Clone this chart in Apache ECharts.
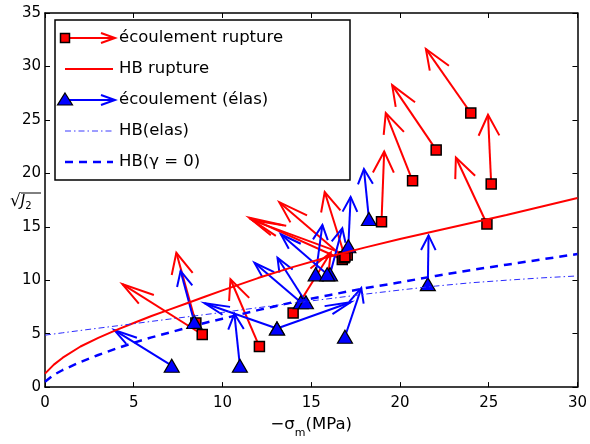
<!DOCTYPE html>
<html><head><meta charset="utf-8">
<script src="https://cdn.jsdelivr.net/npm/echarts@6/dist/echarts.min.js"></script>
<style>html,body{margin:0;padding:0;background:#fff}#c{width:590px;height:444px}</style>
</head><body><div id="c"></div>
<script>
// ---- data ----
const curveX     = [0,0.5,1,2,3,4,5,6,7,8,9,10,12,14,16,18,20,22,24,26,28,30];
const hbRuptureY = [1.26,2.1,2.75,3.8,4.6,5.33,6.0,6.65,7.25,7.85,8.45,9.05,10.2,11.25,12.2,13.05,13.85,14.6,15.35,16.1,16.9,17.7];
const hbElasY    = [4.86,4.97,5.08,5.3,5.51,5.72,5.93,6.15,6.36,6.57,6.78,6.99,7.43,7.86,8.27,8.69,9.08,9.45,9.76,10.0,10.22,10.4];
const hbGamma0Y  = [0.5,1.15,1.6,2.35,3.0,3.6,4.15,4.65,5.1,5.55,6.0,6.4,7.2,7.95,8.6,9.25,9.8,10.4,10.95,11.45,11.95,12.45];

// écoulement rupture: start (square) -> arrow tip
const rupStartX = [23.99,22.04,20.71,25.14,18.96,24.90,8.86,12.08,8.50,16.75,17.03,16.85,16.90,13.98];
const rupStartY = [25.64,22.19,19.30,18.99,15.48,15.26,4.92,3.79,6.00,11.94,12.35,12.10,12.20,6.93];
const rupTipX   = [21.46,19.56,19.20,24.96,19.11,23.15,4.36,10.45,7.40,11.50,11.70,13.20,15.76,16.10];
const rupTipY   = [31.64,28.25,25.64,25.48,22.04,21.48,9.63,10.09,12.56,15.85,15.60,17.30,18.25,12.60];

// écoulement (élas): start (triangle) -> arrow tip
const elaStartX = [7.14,10.98,13.07,13.07,16.90,21.57,18.25,17.09,8.41,15.25,16.06,14.41,14.70,15.90];
const elaStartY = [2.00,2.00,5.48,5.48,4.71,9.63,15.73,13.18,6.10,10.55,10.55,7.94,7.94,10.55];
const elaTipX   = [3.91,10.67,8.99,17.22,17.82,21.61,17.97,17.22,7.64,15.63,16.75,11.80,13.10,13.29];
const elaTipY   = [5.33,6.86,7.85,7.94,9.26,14.19,20.40,17.79,10.87,15.17,14.87,11.63,12.10,14.30];

const xTicks = [0,5,10,15,20,25,30];
const yTicks = [0,5,10,15,20,25,30,35];
const legendLabels = ['écoulement rupture','HB rupture','écoulement (élas)','HB(elas)','HB(γ = 0)'];

// ---- build ----
const FONT = "'DejaVu Sans', sans-serif";
const RED = '#ff0000', BLUE = '#0000ff';
const zip2 = (a,b) => a.map((v,i)=>[v,b[i]]);
const zip4 = (a,b,c,d) => a.map((v,i)=>[v,b[i],c[i],d[i]]);

function arrowRender(color){
  return function(params, api){
    const x0=api.value(0), y0=api.value(1), x1=api.value(2), y1=api.value(3);
    const u=x1-x0, v=y1-y0, a=0.3, b=0.3;
    const p0=api.coord([x0,y0]), p1=api.coord([x1,y1]);
    const h1=api.coord([x1-a*(u+b*v), y1-a*(v-b*u)]);
    const h2=api.coord([x1-a*(u-b*v), y1-a*(v+b*u)]);
    return {type:'group', children:[
      {type:'line', shape:{x1:p0[0],y1:p0[1],x2:p1[0],y2:p1[1]}, style:{stroke:color,lineWidth:2}},
      {type:'polyline', shape:{points:[h1,p1,h2]}, style:{stroke:color,lineWidth:2,fill:null}}
    ]};
  };
}

const axisCommon = {
  min:0, interval:5,
  splitLine:{show:false},
  axisLine:{show:true, onZero:false, lineStyle:{color:'#000', width:1.5}},
  axisTick:{show:true, inside:true, length:5, lineStyle:{color:'#000', width:1}},
};

// legend drawn as graphic
const LX = 55, LY = 20, LW = 295, LH = 160;
const rowY = [38, 69, 100, 131, 162];
const gx0 = 65, gx1 = 115, tx = 119;
const g = [];
g.push({type:'rect', shape:{x:LX,y:LY,width:LW,height:LH}, style:{fill:'#fff', stroke:'#000', lineWidth:1.5}, z:100});
function arrowIcon(y, color){
  g.push({type:'line', shape:{x1:gx0,y1:y,x2:gx1,y2:y}, style:{stroke:color,lineWidth:2}, z:101});
  g.push({type:'polyline', shape:{points:[[gx1-14,y-5],[gx1,y],[gx1-14,y+5]]}, style:{stroke:color,lineWidth:2,fill:null}, z:101});
}
arrowIcon(rowY[0], RED);
g.push({type:'rect', shape:{x:gx0-4.5,y:rowY[0]-4.5,width:9,height:9}, style:{fill:RED, stroke:'#000', lineWidth:1.5}, z:102});
g.push({type:'line', shape:{x1:gx0,y1:rowY[1],x2:gx1-2,y2:rowY[1]}, style:{stroke:RED,lineWidth:2}, z:101});
arrowIcon(rowY[2], BLUE);
g.push({type:'polygon', shape:{points:[[gx0,rowY[2]-7],[gx0+7.5,rowY[2]+5],[gx0-7.5,rowY[2]+5]]}, style:{fill:BLUE, stroke:'#000', lineWidth:1.2}, z:102});
g.push({type:'line', shape:{x1:gx0,y1:rowY[3],x2:gx1-2,y2:rowY[3]}, style:{stroke:'#3a3aff',lineWidth:1,lineDash:[6,3,1.5,3]}, z:101});
g.push({type:'line', shape:{x1:gx0,y1:rowY[4],x2:gx1-2,y2:rowY[4]}, style:{stroke:BLUE,lineWidth:2.5,lineDash:[8,6]}, z:101});
legendLabels.forEach((t,i)=>{
  g.push({type:'text', x:tx, y:rowY[i], style:{text:t, font:'16.5px '+FONT, fill:'#000', verticalAlign:'middle', align:'left'}, z:101});
});
// y axis name sqrt(J2)
g.push({type:'text', x:10, y:202, style:{text:'{s|√}{j|J}{sub|2}', verticalAlign:'middle', align:'left',
  rich:{s:{fontSize:17, fontFamily:FONT, fill:'#000'}, j:{fontSize:15, fontFamily:FONT, fontStyle:'italic', fill:'#000'}, sub:{fontSize:10, fontFamily:FONT, fill:'#000', padding:[8,0,0,0]}}}, z:50});
g.push({type:'line', shape:{x1:21,y1:193,x2:41,y2:193}, style:{stroke:'#000', lineWidth:1}, z:50});

const option = {
  animation:false,
  backgroundColor:'#fff',
  grid:{left:45, right:12, top:13, bottom:52, containLabel:false},
  xAxis:[
    Object.assign({}, axisCommon, {type:'value', max:30, position:'bottom',
      axisLabel:{show:true, color:'#000', fontSize:15, fontFamily:FONT, margin:9, formatter:v=>xTicks.includes(v)?String(v):''},
      name:'{a|−σ}{m|m}{a|(MPa)}', nameLocation:'middle', nameGap:23,
      nameTextStyle:{rich:{a:{fontSize:16.5, fontFamily:FONT, color:'#000', verticalAlign:'top'}, m:{fontSize:11, fontFamily:FONT, color:'#000', padding:[12,0,0,0]}}, verticalAlign:'top'}
    }),
    Object.assign({}, axisCommon, {type:'value', max:30, position:'top', axisLabel:{show:false}})
  ],
  yAxis:[
    Object.assign({}, axisCommon, {type:'value', max:35, position:'left',
      axisLabel:{show:true, color:'#000', fontSize:15, fontFamily:FONT, margin:4, formatter:v=>yTicks.includes(v)?String(v):''}}),
    Object.assign({}, axisCommon, {type:'value', max:35, position:'right', axisLabel:{show:false}})
  ],
  graphic:g,
  series:[
    {type:'line', name:legendLabels[1], data:zip2(curveX,hbRuptureY), showSymbol:false, lineStyle:{color:RED,width:2}, clip:true},
    {type:'line', name:legendLabels[3], data:zip2(curveX,hbElasY), showSymbol:false, lineStyle:{color:'#2a2aff',width:1,type:[6,3,1.5,3]}, clip:true},
    {type:'line', name:legendLabels[4], data:zip2(curveX,hbGamma0Y), showSymbol:false, lineStyle:{color:BLUE,width:2.5,type:[8,6]}, clip:true},
    {type:'custom', name:legendLabels[0], renderItem:arrowRender(RED), data:zip4(rupStartX,rupStartY,rupTipX,rupTipY), encode:{x:[0,2], y:[1,3]}},
    {type:'scatter', name:legendLabels[0]+' pts', data:zip2(rupStartX,rupStartY), symbol:'rect', symbolSize:10, itemStyle:{color:RED, borderColor:'#000', borderWidth:1.5, opacity:1}},
    {type:'custom', name:legendLabels[2], renderItem:arrowRender(BLUE), data:zip4(elaStartX,elaStartY,elaTipX,elaTipY), encode:{x:[0,2], y:[1,3]}},
    {type:'scatter', name:legendLabels[2]+' pts', data:zip2(elaStartX,elaStartY), symbol:'triangle', symbolSize:[15,13], itemStyle:{color:BLUE, borderColor:'#000', borderWidth:1.2, opacity:1}}
  ]
};
const chart = echarts.init(document.getElementById('c'), null, {renderer:'canvas'});
chart.setOption(option);
</script></body></html>
